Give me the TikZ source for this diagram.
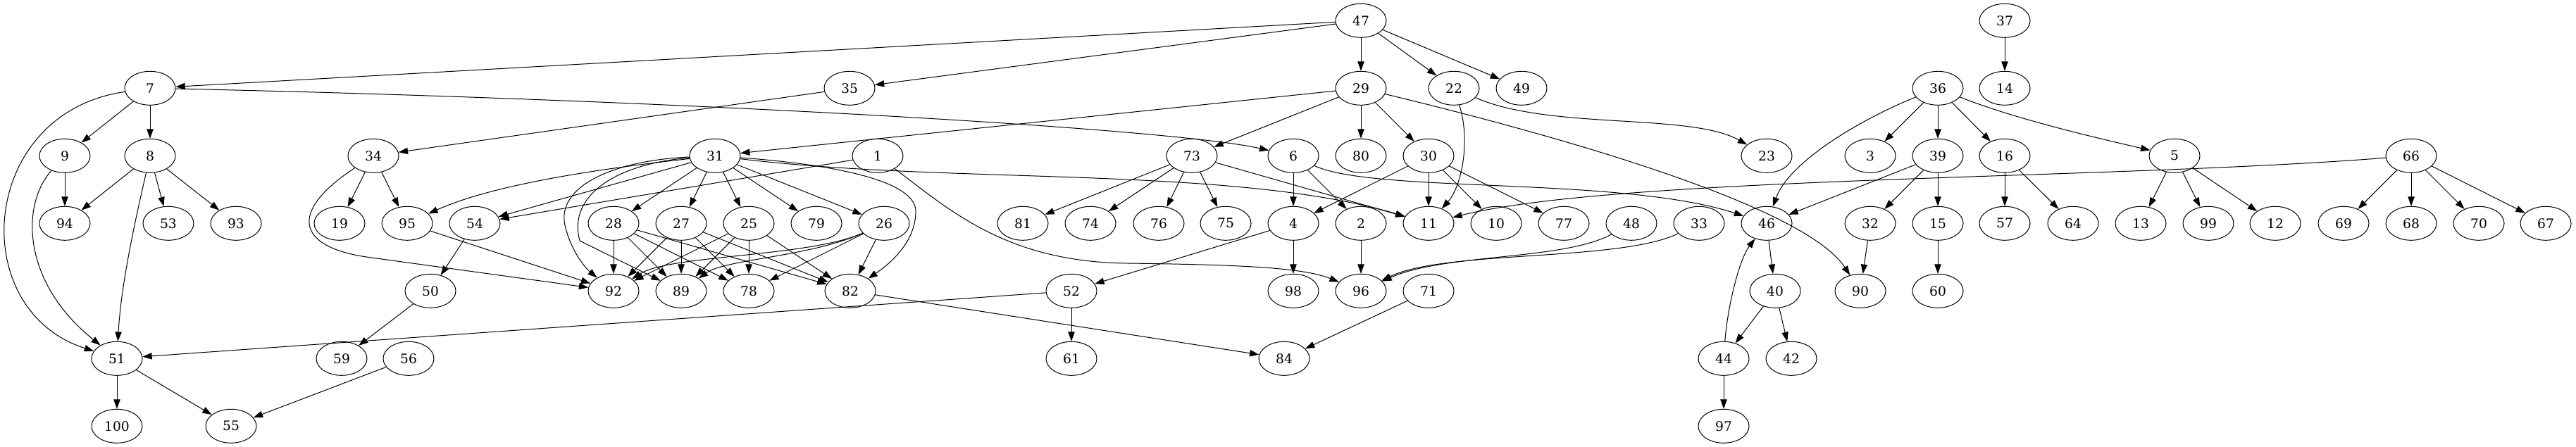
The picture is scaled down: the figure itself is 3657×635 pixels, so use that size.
\documentclass[tikz,border=0pt]{standalone}
\usepackage{fontspec}
\setmainfont{DejaVu Serif}
\usetikzlibrary{shapes.geometric,arrows.meta}
\tikzset{
  nd/.style={ellipse,draw,line width=0.75pt,minimum width=54pt,minimum height=36pt,inner sep=0pt,font=\fontsize{14pt}{16pt}\selectfont},
  edge/.style={line width=0.75pt,-{Triangle[length=10pt,width=7pt]}}
}
\begin{document}
\begin{tikzpicture}[x=0.75pt,y=-0.75pt]
\useasboundingbox (0,0) rectangle (3657,635);
% row 0
\foreach \n/\x in {47/1932,37/2846} \node[nd] (n\n) at (\x,29.3) {\n};
% row 1
\foreach \n/\x in {7/213,35/1206,29/1932,22/2064,49/2160,36/2751,14/2846} \node[nd] (n\n) at (\x,125.3) {\n};
% row 2
\foreach \n/\x in {9/92,8/213,34/530,31/1015,1/1246,73/1692,6/1836,80/1932,30/2028,23/2508,3/2655,39/2751,16/2846,5/3087,66/3423} \node[nd] (n\n) at (\x,221.3) {\n};
% row 3
\foreach \n/\x in {94/92,53/239,93/335,19/482,95/578,54/674,28/871,27/967,25/1063,79/1159,26/1255,81/1452,74/1548,76/1645,75/1740,4/1836,2/1932,11/2028,10/2124,77/2220,48/2316,33/2412,46/2508,32/2655,15/2751,57/2846,64/2943,13/3039,99/3135,12/3230,69/3327,68/3423,70/3519,67/3614} \node[nd] (n\n) at (\x,317.3) {\n};
% row 4
\foreach \n/\x in {50/611,92/871,89/967,78/1063,82/1207,52/1521,98/1836,96/1932,71/2028,40/2520,90/2641,60/2751} \node[nd] (n\n) at (\x,413.3) {\n};
% row 5
\foreach \n/\x in {51/166,59/485,56/580,61/1521,84/1823,44/2447,42/2543} \node[nd] (n\n) at (\x,509.3) {\n};
% row 6
\foreach \n/\x in {100/166,55/328,97/2447} \node[nd] (n\n) at (\x,605.3) {\n};
% straight edges
\foreach \a/\b in {47/7,47/35,47/29,47/22,47/49,37/14,7/9,7/8,9/94,8/94,8/53,8/93,35/34,34/19,34/95,95/92,54/50,50/59,56/55,51/100,51/55,52/51,52/61,82/84,71/84,29/31,29/73,29/80,29/30,31/54,1/54,31/28,31/27,31/25,31/79,31/26,28/92,28/89,28/78,28/82,27/92,27/89,27/78,27/82,25/92,25/89,25/78,25/82,26/78,26/82,73/81,73/74,73/76,73/75,73/11,6/4,6/2,30/4,30/11,30/10,30/77,4/98,4/52,2/96,36/3,36/39,36/16,39/46,39/32,39/15,16/57,16/64,5/13,5/99,5/12,66/69,66/68,66/70,66/67,15/60,32/90,46/40,40/44,40/42,44/97}
  \draw[edge] (n\a) -- (n\b);
% curved edges
\draw[edge] (n7) .. controls (-30,160) and (-50,440) .. (n51);
\draw[edge] (n9) .. controls (30,290) and (30,400) .. (n51);
\draw[edge] (n8) .. controls (195,300) and (172,400) .. (n51);
\draw[edge] (n7) .. controls (900,140) and (1650,180) .. (n6);
\draw[edge] (n34) .. controls (410,300) and (420,350) .. (520,365) -- (n92);
\draw[edge] (n31) .. controls (850,240) and (700,262) .. (n95);
\draw[edge] (n31) .. controls (870,228) and (790,265) .. (802,320) .. controls (810,355) and (830,380) .. (n92);
\draw[edge] (n31) .. controls (880,232) and (805,275) .. (823,342) -- (n89);
\draw[edge] (n31) .. controls (1200,235) and (1300,260) .. (1300,300) .. controls (1300,340) and (1270,370) .. (n82);
\draw[edge] (n31) .. controls (1350,262) and (1750,235) .. (n11);
\draw[edge] (n29) .. controls (2200,190) and (2560,290) .. (n90);
\draw[edge] (n22) .. controls (2200,185) and (2400,160) .. (n23);
\draw[edge] (n22) .. controls (2088,200) and (2075,265) .. (n11);
\draw[edge] (n6) .. controls (1950,275) and (2300,250) .. (n46);
\draw[edge] (n66) .. controls (3000,255) and (2300,250) .. (n11);
\draw[edge] (n36) .. controls (2640,170) and (2540,230) .. (n46);
\draw[edge] (n36) .. controls (2850,165) and (2950,190) .. (n5);
\draw[edge] (n1) .. controls (1350,300) and (1430,372) .. (1600,374) .. controls (1760,376) and (1850,380) .. (n96);
\draw[edge] (n48) .. controls (2220,370) and (2050,360) .. (n96);
\draw[edge] (n33) .. controls (2300,372) and (2050,355) .. (n96);
\draw[edge] (n26) .. controls (1150,365) and (950,362) .. (n92);
\draw[edge] (n26) .. controls (1150,365) and (1030,368) .. (n89);
\draw[edge] (n44) .. controls (2452,440) and (2468,370) .. (n46);
\end{tikzpicture}
\end{document}
